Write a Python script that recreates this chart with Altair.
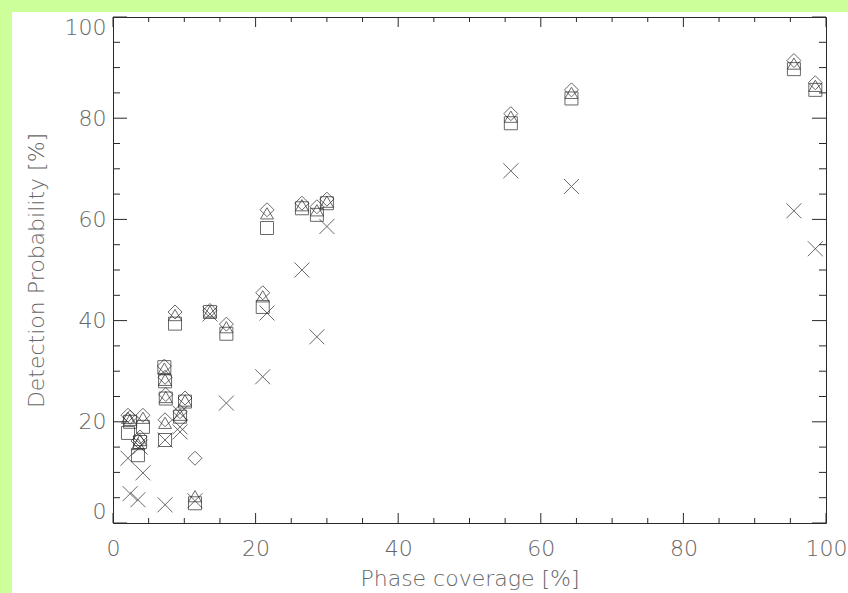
import altair as alt
import pandas as pd

# ---- data ----
x_sym = [2.1, 2.4, 3.5, 3.8, 4.2, 7.2, 7.3, 7.4, 7.3, 8.7, 9.4, 10.1, 11.5,
         13.6, 15.9, 21.0, 21.6, 26.5, 28.6, 30.0, 55.8, 64.3, 95.5, 98.5]
y_diamond = [21.3, 20.9, 16.2, 17.0, 21.3, 31.0, 28.8, 25.4, 20.4, 41.7, 22.0, 24.7, 12.8,
             42.0, 39.3, 45.5, 61.9, 63.2, 62.5, 64.0, 80.9, 85.6, 91.4, 87.0]
y_triangle = [20.8, 20.4, 15.6, 16.4, 20.8, 30.5, 28.3, 24.9, 19.8, 41.1, 21.4, 24.2, 5.3,
              41.8, 38.7, 44.8, 61.2, 62.8, 61.8, 63.5, 80.3, 85.0, 90.8, 86.4]
y_square = [17.8, 20.0, 13.4, 16.0, 19.0, 30.8, 28.0, 24.6, 16.4, 39.4, 21.0, 24.0, 3.9,
            41.7, 37.4, 42.7, 58.3, 62.2, 60.9, 63.2, 79.0, 83.9, 89.7, 85.6]
x_cross = [2.1, 2.4, 3.5, 3.8, 4.2, 7.3, 7.3, 9.4, 9.4, 9.4, 11.5, 13.6, 15.9,
           21.0, 21.6, 26.5, 28.6, 30.0, 55.8, 64.3, 95.5, 98.5]
y_cross = [12.8, 5.8, 4.6, 15.0, 9.9, 3.6, 16.4, 21.7, 19.0, 18.0, 4.4, 41.3, 23.7,
           28.9, 41.5, 50.0, 36.8, 58.6, 69.6, 66.5, 61.7, 54.2]

major_ticks = [0, 20, 40, 60, 80, 100]
minor_ticks = [5, 10, 15, 25, 30, 35, 45, 50, 55, 65, 70, 75, 85, 90, 95]

x_title = "Phase coverage [%]"
y_title = "Detection Probability [%]"

# ---- styling ----
W, H = 713, 506
FONT = "DejaVu Sans"
FW = 200
TXT = "#666666"
INK = "#2a2a2a"
GREEN = "#ccff99"

xs = alt.Scale(domain=[0, 100], nice=False, zero=False)
ys = alt.Scale(domain=[0, 100], nice=False, zero=False)

x_axis = alt.Axis(values=major_ticks, title=x_title, ticks=False, domain=False, grid=False,
                  labelFont=FONT, labelFontSize=22, labelFontWeight=FW, labelColor=TXT,
                  labelPadding=15, labelFlush=False, format="d",
                  titleFont=FONT, titleFontSize=22, titleFontWeight=FW, titleColor=TXT,
                  titleY=62, titleBaseline="alphabetic", zindex=1)
y_axis = alt.Axis(values=major_ticks, title=y_title, ticks=False, domain=False, grid=False,
                  labelFont=FONT, labelFontSize=22, labelFontWeight=FW, labelColor=TXT,
                  labelPadding=7, labelFlush=True, format="d",
                  titleFont=FONT, titleFontSize=22, titleFontWeight=FW, titleColor=TXT,
                  titleX=-70, titleY=H / 2, titleAngle=270, titleAlign="center",
                  titleBaseline="alphabetic", zindex=1)

sym_df = pd.DataFrame({"x": x_sym, "d": y_diamond, "t": y_triangle, "s": y_square})
cross_df = pd.DataFrame({"x": x_cross, "y": y_cross})
major_df = pd.DataFrame({"v": major_ticks})
minor_df = pd.DataFrame({"v": minor_ticks})
one = pd.DataFrame({"a": [0]})


def X(field):
    return alt.X(field, type="quantitative", scale=xs, axis=x_axis)


def Y(field):
    return alt.Y(field, type="quantitative", scale=ys, axis=y_axis)


# decorative green strips (outside plot area)
strip_top = alt.Chart(one).mark_rect(color=GREEN).encode(
    x=alt.value(-113), x2=alt.value(W + 22), y=alt.value(-17), y2=alt.value(-5))
strip_left = alt.Chart(one).mark_rect(color=GREEN).encode(
    x=alt.value(-113), x2=alt.value(-101), y=alt.value(-17), y2=alt.value(H + 70))


# inward ticks
def xticks(df, length):
    bot = alt.Chart(df).mark_rule(color=INK, strokeWidth=1).encode(
        x=X("v"), y=alt.value(H), y2=alt.value(H - length))
    top = alt.Chart(df).mark_rule(color=INK, strokeWidth=1).encode(
        x=X("v"), y=alt.value(0), y2=alt.value(length))
    return [bot, top]


def yticks(df, length):
    left = alt.Chart(df).mark_rule(color=INK, strokeWidth=1).encode(
        y=Y("v"), x=alt.value(0), x2=alt.value(length))
    right = alt.Chart(df).mark_rule(color=INK, strokeWidth=1).encode(
        y=Y("v"), x=alt.value(W), x2=alt.value(W - length))
    return [left, right]


ticks = xticks(major_df, 10) + xticks(minor_df, 5) + yticks(major_df, 14) + yticks(minor_df, 7)

base = alt.Chart(sym_df)
diamonds = base.mark_point(shape="diamond", filled=False, size=196, strokeWidth=1, color=INK).encode(
    x=X("x"), y=Y("d"))
triangles = base.mark_point(shape="triangle-up", filled=False, size=169, strokeWidth=1, color=INK).encode(
    x=X("x"), y=Y("t"))
squares = base.mark_point(shape="square", filled=False, size=169, strokeWidth=1, color=INK).encode(
    x=X("x"), y=Y("s"))
crosses = alt.Chart(cross_df).mark_point(shape="M-1,-1L1,1M-1,1L1,-1", filled=False, size=225,
                                         strokeWidth=1, color=INK).encode(
    x=X("x"), y=Y("y"))

chart = alt.layer(strip_top, strip_left, *ticks, squares, triangles, diamonds, crosses).properties(
    width=W, height=H,
    autosize=alt.AutoSizeParams(type="none"),
    padding={"left": 113, "top": 17, "right": 22, "bottom": 70},
    background="white",
).configure_view(stroke=INK, strokeWidth=1, fill="white")

chart.save("out.html", embed_options={"renderer": "svg", "actions": False})
